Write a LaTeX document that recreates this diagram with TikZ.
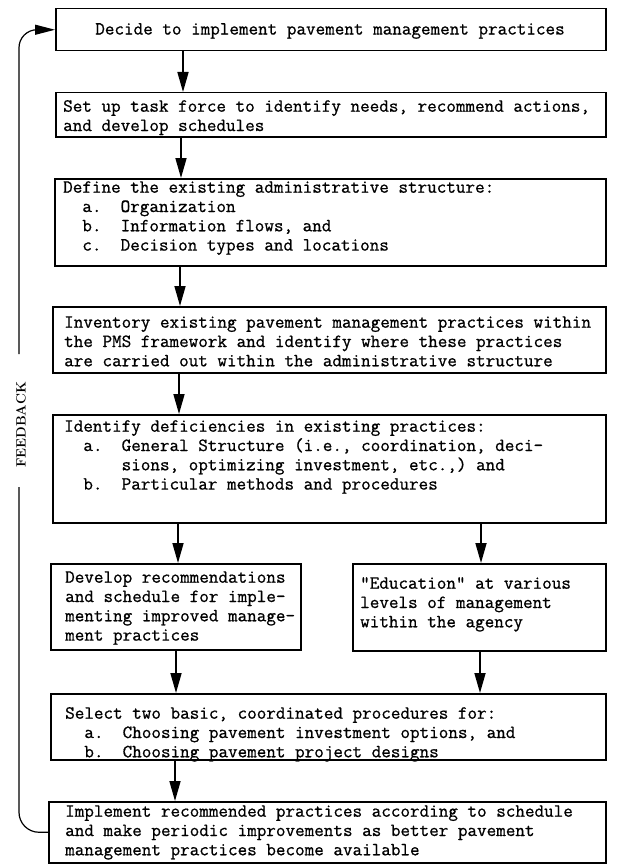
\documentclass[tikz,border=0pt]{standalone}
\usepackage{fontspec}
\newfontfamily\twfont{Latin Modern Mono}[FakeBold=0.8]
\usetikzlibrary{arrows.meta}
\newcommand\myind{\phantom{xx}}
\newcommand\mywide{\phantom{xxxxxx}}
\begin{document}
\begin{tikzpicture}[x=1pt,y=-1pt,
  box/.style={draw, line width=1.5pt, inner sep=0pt, anchor=north west},
  txt/.style={font=\twfont\fontsize{18.6}{19.3}\selectfont, align=left, anchor=north west, inner sep=0pt},
  arr/.style={line width=1.7pt, -{Triangle[length=20pt,width=11pt]}},
  fb/.style={line width=1.2pt}]
\useasboundingbox (0,0) rectangle (620,864);
% boxes
\node[box, minimum width=550pt, minimum height=42pt] (b1) at (55,8) {};
\node[box, minimum width=550pt, minimum height=44pt] (b2) at (55,92) {};
\node[box, minimum width=551pt, minimum height=87pt] (b3) at (54,178) {};
\node[box, minimum width=553pt, minimum height=66pt] (b4) at (52,306) {};
\node[box, minimum width=553pt, minimum height=108pt] (b5) at (52,414) {};
\node[box, minimum width=250pt, minimum height=86pt] (b6) at (50,563) {};
\node[box, minimum width=253pt, minimum height=87pt] (b7) at (352,563) {};
\node[box, minimum width=555pt, minimum height=66pt] (b8) at (50,693) {};
\node[box, minimum width=557pt, minimum height=61pt] (b9) at (48,801) {};
% texts
\node[txt, anchor=center] (t1) at (330,31) {Decide to implement pavement management practices};
\node[txt] (t2) at (63,98) {\strut Set up task force to identify needs, recommend actions,\\and develop schedules};
\node[txt] (t3) at (63,179) {\strut Define the existing administrative structure:\\\myind a.\myind Organization\\\myind b.\myind Information flows, and\\\myind c.\myind Decision types and locations};
\node[txt] (t4) at (64,314) {\strut Inventory existing pavement management practices within\\the PMS framework and identify where these practices\\are carried out within the administrative structure};
\node[txt] (t5) at (64,418) {\strut Identify deficiencies in existing practices:\\\myind a.\myind General Structure (i.e., coordination, deci-\\\mywide sions, optimizing investment, etc.,) and\\\myind b.\myind Particular methods and procedures};
\node[txt] (t6) at (65,569) {\strut Develop recommendations\\and schedule for imple-\\menting improved manage-\\ment practices};
\node[txt] (t7) at (360,575) {\strut "Education" at various\\levels of management\\within the agency};
\node[txt] (t8) at (65,705) {\strut Select two basic, coordinated procedures for:\\\myind a.\myind Choosing pavement investment options, and\\\myind b.\myind Choosing pavement project designs};
\node[txt] (t9) at (65,803) {\strut Implement recommended practices according to schedule\\and make periodic improvements as better pavement\\management practices become available};
% arrow columns
\coordinate (x1) at (183,0);
\coordinate (x2) at (181,0);
\coordinate (x3) at (180,0);
\coordinate (x4) at (179,0);
\coordinate (x5) at (178,0);
\coordinate (x6) at (481,0);
\coordinate (x7) at (176,0);
\coordinate (x8) at (480,0);
\coordinate (x9) at (175,0);
\draw[arr] (b1.south -| x1) -- (b2.north -| x1);
\draw[arr] (b2.south -| x2) -- (b3.north -| x2);
\draw[arr] (b3.south -| x3) -- (b4.north -| x3);
\draw[arr] (b4.south -| x4) -- (b5.north -| x4);
\draw[arr] (b5.south -| x5) -- (b6.north -| x5);
\draw[arr] (b5.south -| x6) -- (b7.north -| x6);
\draw[arr] (b6.south -| x7) -- (b8.north -| x7);
\draw[arr] (b7.south -| x8) -- (b8.north -| x8);
\draw[arr] (b8.south -| x9) -- (b9.north -| x9);
% feedback loop
\coordinate (fbA) at (19,487);
\coordinate (fbB) at (19,354);
\draw[fb, rounded corners=20pt] (b9.west) -| (fbA);
\draw[fb, rounded corners=18pt, -{Triangle[length=20pt,width=10pt]}] (fbB) |- (b1.west);
\node[rotate=90, font=\bfseries\fontsize{13.5}{15}\selectfont, inner sep=0pt] (fbl) at (21,425) {FEEDBACK};
\end{tikzpicture}
\end{document}
